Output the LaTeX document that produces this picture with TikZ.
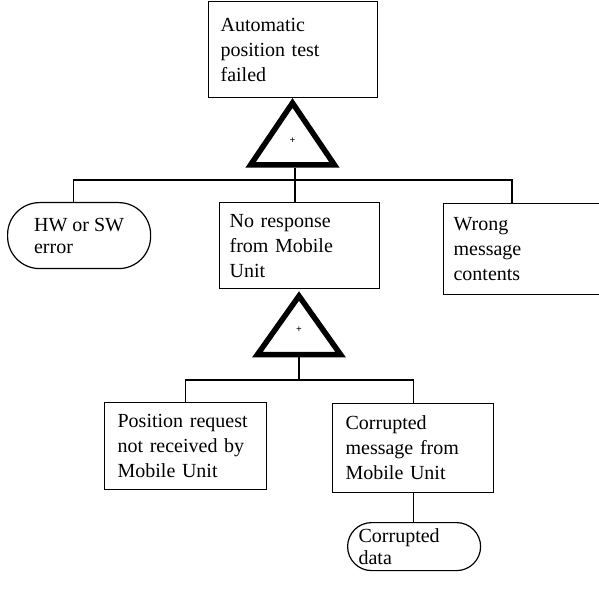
\documentclass[tikz,border=0pt]{standalone}
\usepackage{fontspec}
\setmainfont{Liberation Serif}
\begin{document}
\begin{tikzpicture}[x=1pt,y=-1pt,
  wire/.style={line width=1.2pt},
  event/.style={font=\fontsize{20}{25}\selectfont, draw, line width=1.2pt,
    rectangle, anchor=north west, align=left, inner ysep=0pt},
  basic/.style={event, font=\fontsize{20}{22}\selectfont, rounded corners=#1},
  gate/.style={line width=5.5pt, line join=miter, miter limit=10},
  plus/.style={font=\bfseries\fontsize{10}{10}\selectfont, inner sep=0pt}]
\useasboundingbox (0,0) rectangle (599,593);

% events
\node[event, minimum width=169pt, minimum height=96pt, inner xsep=12pt, text width=145pt]
  (top) at (208,1) {Automatic\\position test\\failed};
\node[basic=32pt, minimum width=143pt, minimum height=66pt, inner xsep=4pt]
  (hw) at (7,202) {HW or SW\\error};
\node[event, minimum width=160pt, minimum height=86pt, inner xsep=10pt, text width=140pt]
  (mid) at (219,202) {No response\\from Mobile\\Unit};
\node[event, minimum width=170pt, minimum height=91pt, inner xsep=10pt, text width=150pt]
  (wrong) at (443,203) {Wrong\\message\\contents};
\node[event, minimum width=162pt, minimum height=87pt, inner xsep=13pt, text width=136pt]
  (req) at (104,402) {Position request\\not received by\\Mobile Unit};
\node[event, minimum width=161pt, minimum height=89pt, inner xsep=13pt, text width=135pt]
  (corr) at (332,403) {Corrupted\\message from\\Mobile Unit};
\node[basic=24pt, minimum width=133pt, minimum height=48pt, inner xsep=11pt, text width=111pt]
  (data) at (347,522) {Corrupted\\data};

% OR gates
\draw[gate] (292.5,103) -- (334.5,165) -- (250.5,165) -- cycle;
\node[plus] (p1) at (292.5,141) {+};
\coordinate (g1out) at (295,168);
\draw[gate] (299,296) -- (340.5,354.5) -- (257.5,354.5) -- cycle;
\node[plus] (p2) at (299,330) {+};
\coordinate (g2out) at (299,357);

% branch bars
\coordinate (bar1) at (0,180);
\coordinate (bar2) at (0,380);
\coordinate (wtop) at (512,203);

\draw[wire] (g1out) -- (g1out |- mid.north);
\draw[wire] ([xshift=-5.5pt]hw.north) |- (wtop |- bar1) -- (wtop);

\draw[wire] (g2out) -- (g2out |- bar2);
\draw[wire] (req.north) |- (corr.north |- bar2) -- (corr.north);
\draw[wire] (corr.south) -- (corr.south |- data.north);
\end{tikzpicture}
\end{document}
